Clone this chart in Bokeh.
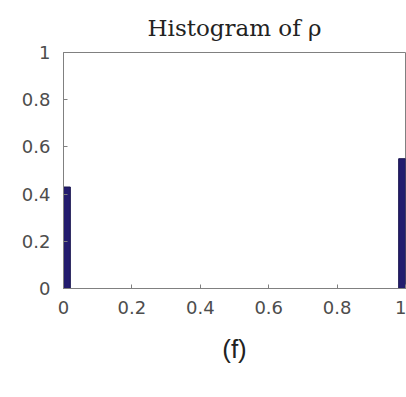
from bokeh.plotting import figure
from bokeh.models import Title, Range1d, FixedTicker
from bokeh.embed import file_html
from bokeh.resources import INLINE

# Histogram data (bin edges and relative frequencies)
bin_left = [0.0, 0.98]
bin_right = [0.02, 1.0]
frequency = [0.43, 0.55]
x_ticks = [0, 0.2, 0.4, 0.6, 0.8, 1]
y_ticks = [0, 0.2, 0.4, 0.6, 0.8, 1]
x_tick_labels = {0: "0", 0.2: "0.2", 0.4: "0.4", 0.6: "0.6", 0.8: "0.8", 1: "1"}
y_tick_labels = {0: "0", 0.2: "0.2", 0.4: "0.4", 0.6: "0.6", 0.8: "0.8", 1: "1"}
title_text = "Histogram of ρ"
caption_text = "(f)"

p = figure(width=406, height=388, output_backend="svg", toolbar_location=None,
           x_range=Range1d(0, 1), y_range=Range1d(0, 1),
           min_border_left=63, min_border_right=1, min_border_top=52,
           min_border_bottom=100)

p.title.text = title_text
p.title.text_font = "DejaVu Serif"
p.title.text_font_size = "23px"
p.title.text_font_style = "normal"
p.title.text_color = "#222222"
p.title.align = "center"
p.title.standoff = 24

p.quad(left=bin_left, right=bin_right, bottom=0, top=frequency,
       fill_color="#231c6e", line_color="#1a1550", line_width=1)

for ax in (p.xaxis[0], p.yaxis[0]):
    ax.axis_line_color = "#808080"
    ax.major_tick_line_color = "#808080"
    ax.major_tick_in = 4
    ax.major_tick_out = 0
    ax.minor_tick_line_color = None
    ax.major_label_text_font = "DejaVu Sans"
    ax.major_label_text_font_size = "18px"
    ax.major_label_text_color = "#4d4d4d"

p.xaxis.ticker = FixedTicker(ticks=x_ticks)
p.yaxis.ticker = FixedTicker(ticks=y_ticks)
p.xaxis.major_label_overrides = x_tick_labels
p.yaxis.major_label_overrides = y_tick_labels
p.xaxis.major_label_standoff = 12
p.yaxis.major_label_standoff = 13

p.xgrid.grid_line_color = None
p.ygrid.grid_line_color = None
p.outline_line_color = "#808080"

cap = Title(text=caption_text, align="center", text_font="Liberation Sans",
            text_font_size="26px", text_font_style="normal", text_color="#222222",
            standoff=30, offset=8)
p.add_layout(cap, "below")

open("out.html", "w").write(file_html(p, INLINE))
